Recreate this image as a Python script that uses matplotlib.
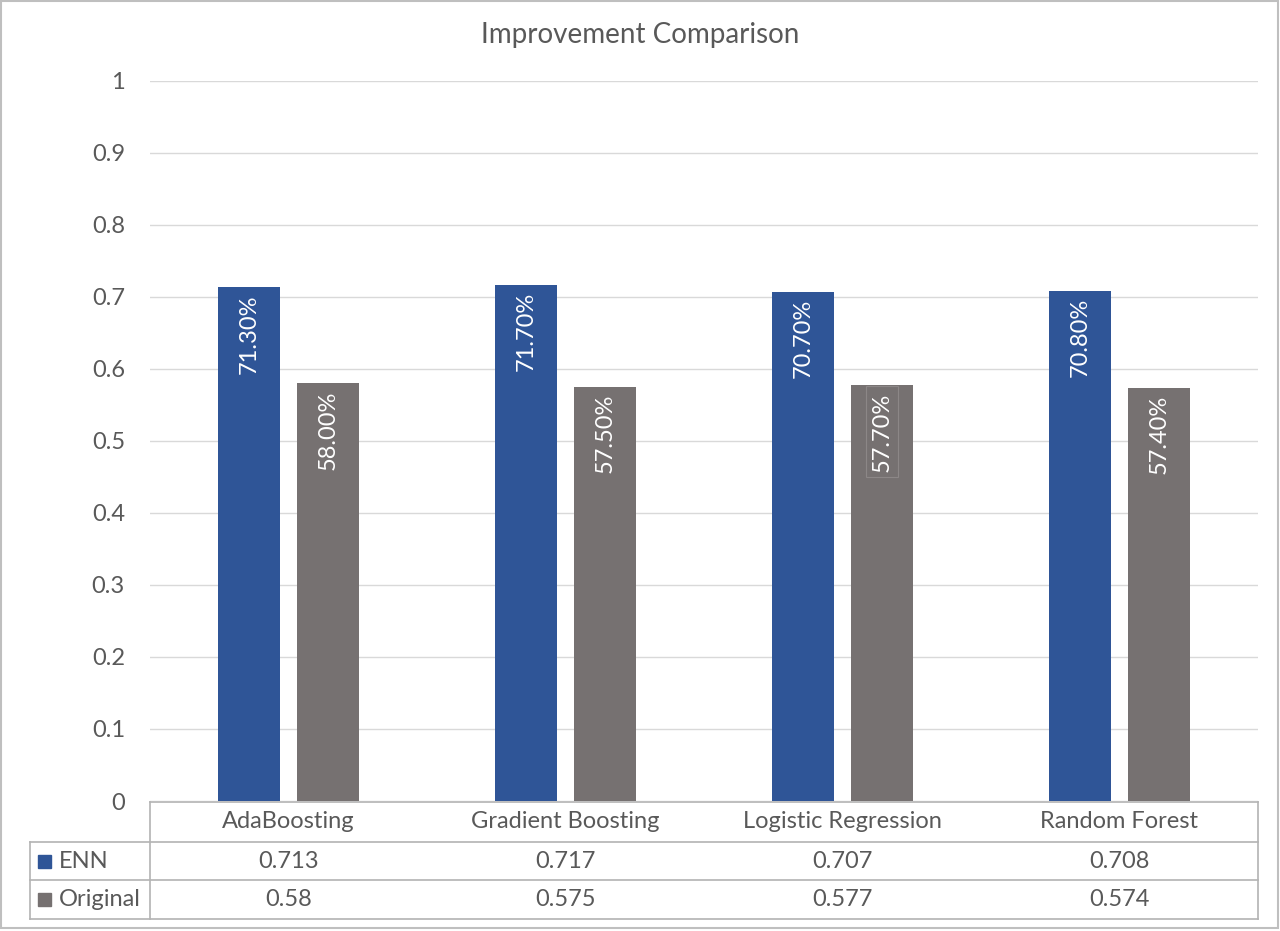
import numpy as np
import matplotlib
matplotlib.use("Agg")
import matplotlib.pyplot as plt
from matplotlib.lines import Line2D
from matplotlib.patches import Rectangle

plt.rcParams['font.family'] = ['Lato', 'DejaVu Sans']

# chart data
categories = ['AdaBoosting', 'Gradient Boosting', 'Logistic Regression', 'Random Forest']
series_names = ['ENN', 'Original']
enn = [0.713, 0.717, 0.707, 0.708]
original = [0.58, 0.575, 0.577, 0.574]
yticks = [0, 0.1, 0.2, 0.3, 0.4, 0.5, 0.6, 0.7, 0.8, 0.9, 1]
ytick_labels = ['0', '0.1', '0.2', '0.3', '0.4', '0.5', '0.6', '0.7', '0.8', '0.9', '1']

blue = '#2F5597'
grey = '#767171'
text_col = '#595959'
line_col = '#b3b3b3'
fs = 17

W, H = 1280, 931
fig = plt.figure(figsize=(W / 100, H / 100), dpi=100)


def fx(x):
    return x / W


def fy(y):
    return 1 - y / H


ax = fig.add_axes([fx(150), fy(801), fx(1258) - fx(150), fy(80.7) - fy(801)])

x = np.arange(len(categories)) + 0.5
width = 0.224
offset = 0.1426
bars_enn = ax.bar(x - offset, enn, width, color=blue, zorder=3)
bars_orig = ax.bar(x + offset, original, width, color=grey, zorder=3)

for bars, vals in ((bars_enn, enn), (bars_orig, original)):
    for i, (b, v) in enumerate(zip(bars, vals)):
        box = None
        if bars is bars_orig and i == 2:
            box = dict(boxstyle='square,pad=0.25', fc='none', ec='#8c8787', lw=0.8)
        ax.annotate(f"{v * 100:.2f}%", xy=(b.get_x() + b.get_width() / 2, v),
                    xytext=(0, -5), textcoords='offset points',
                    rotation=90, ha='center', va='top', color='white',
                    fontsize=fs, zorder=4, bbox=box)

ax.set_xlim(0, len(categories))
ax.set_ylim(0, 1)
ax.set_yticks(yticks)
ax.set_yticklabels(ytick_labels)
ax.set_xticks([])
ax.tick_params(axis='y', length=0, pad=18, labelsize=fs, labelcolor=text_col)
ax.grid(axis='y', color='#d9d9d9', linewidth=1, zorder=0)
for s in ax.spines.values():
    s.set_visible(False)

fig.text(fx(640), fy(35), 'Improvement Comparison', ha='center', va='center',
         fontsize=20, color=text_col)

# data table under the axis
def hline(y, x0, x1):
    fig.add_artist(Line2D([fx(x0), fx(x1)], [fy(y), fy(y)], color=line_col, lw=1.2))


def vline(xp, y0, y1):
    fig.add_artist(Line2D([fx(xp), fx(xp)], [fy(y0), fy(y1)], color=line_col, lw=1.2))


hline(801.5, 150, 1258)
hline(842, 30, 1258)
hline(880, 30, 1258)
hline(919, 30, 1258)
vline(150, 801.5, 919)
vline(1258, 801.5, 919)
vline(30, 842, 919)

col_px = [150 + 277 * (i + 0.5) for i in range(len(categories))]
for cx, cat in zip(col_px, categories):
    fig.text(fx(cx), fy(822), cat, ha='center', va='center', fontsize=fs, color=text_col)

rows = [(861, enn, blue), (899.5, original, grey)]
for (ry, vals, col), name in zip(rows, series_names):
    fig.add_artist(Rectangle((fx(38), fy(ry + 6.5)), fx(13), 13 / H,
                             transform=fig.transFigure, color=col))
    fig.text(fx(59), fy(ry), name, ha='left', va='center', fontsize=fs, color=text_col)
    for cx, v in zip(col_px, vals):
        fig.text(fx(cx), fy(ry), f"{v:g}", ha='center', va='center',
                 fontsize=fs, color=text_col)

# outer chart frame
fig.add_artist(Rectangle((fx(1), fy(928)), fx(1277), 927 / H, transform=fig.transFigure,
                         fill=False, ec='#bfbfbf', lw=1.5))

fig.savefig('out.png', dpi=100)
